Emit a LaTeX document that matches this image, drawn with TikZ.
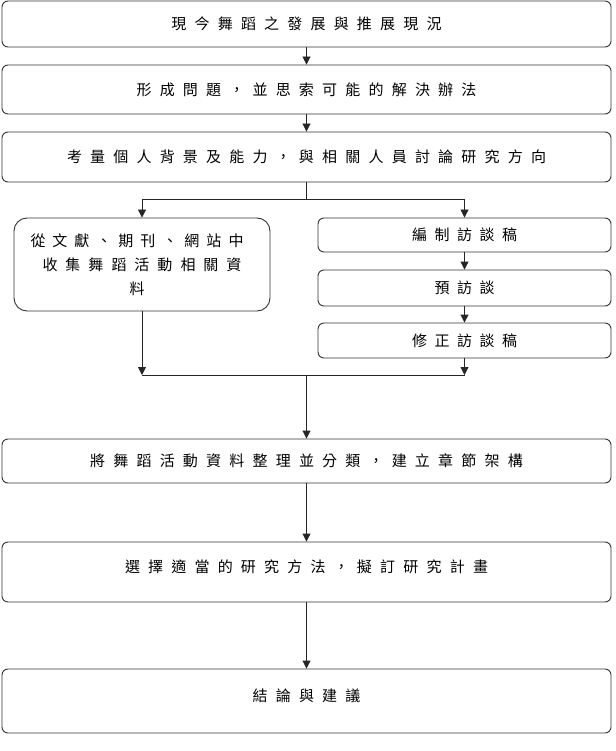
\documentclass[tikz,border=0pt]{standalone}
\usepackage{fontspec}
\newfontfamily\cjk{Noto Sans CJK TC}
\usetikzlibrary{arrows.meta}
\makeatletter
\def\gapsp{8.2pt}
\def\spacedtext#1{\spc@first#1\relax}
\def\spc@first#1{#1\spc@rest}
\def\spc@rest#1{\ifx#1\relax\else\hspace{\gapsp}#1\expandafter\spc@rest\fi}
\makeatother
\tikzset{
  box/.style={draw=black!80, line width=0.9pt, rounded corners=6pt, inner sep=0pt,
    font=\cjk\fontsize{15pt}{24pt}\selectfont, text=black},
  flow/.style={draw=black!85, line width=0.9pt, -{Triangle[length=8pt,width=8pt]}},
  link/.style={draw=black!85, line width=0.9pt}
}
\begin{document}
\begin{tikzpicture}[x=1pt,y=-1pt]
\useasboundingbox (0,0) rectangle (615,751);
\fill[white] (0,0) rectangle (615,751);

\node[box, minimum width=609pt, minimum height=46pt] (n1) at (306.5,24) {\spacedtext{現今舞蹈之發展與推展現況}};
\node[box, minimum width=609pt, minimum height=49pt] (n2) at (306.5,89.5) {\spacedtext{形成問題，並思索可能的解決辦法}};
\node[box, minimum width=609pt, minimum height=50pt] (n3) at (306.5,157) {\spacedtext{考量個人背景及能力，與相關人員討論研究方向}};

\node[box, rounded corners=13pt, minimum width=256pt, minimum height=93pt, align=center] (nL) at (142,264.5)
  {\def\gapsp{7pt}\spacedtext{從文獻、期刊、網站中}\hspace*{10pt}\\ \def\gapsp{8pt}\spacedtext{收集舞蹈活動相關資}\hspace*{10pt}\\ \spacedtext{料}\hspace*{10pt}};

\node[box, minimum width=293pt, minimum height=34pt] (rA) at (464.5,235) {\def\gapsp{7.5pt}\spacedtext{編制訪談稿}};
\node[box, minimum width=293pt, minimum height=36pt] (rB) at (464.5,288) {\def\gapsp{7.5pt}\spacedtext{預訪談}};
\node[box, minimum width=293pt, minimum height=35pt] (rC) at (464.5,340.5) {\def\gapsp{7.5pt}\spacedtext{修正訪談稿}};

\node[box, minimum width=609pt, minimum height=44pt] (n8) at (306.5,461) {\spacedtext{將舞蹈活動資料整理並分類，建立章節架構}};
\node[box, minimum width=609pt, minimum height=60pt, text depth=12pt] (n9) at (306.5,572) {\spacedtext{選擇適當的研究方法，擬訂研究計畫}};
\node[box, minimum width=609pt, minimum height=64pt, text depth=12pt] (n10) at (306.5,701) {\spacedtext{結論與建議}};

\coordinate (sp) at (306.5,199);
\coordinate (spL) at (142,199);
\coordinate (spR) at (464.5,199);
\coordinate (mL) at (142,375);
\coordinate (mR) at (464.5,375);
\coordinate (mC) at (306.5,375);

\draw[flow] (n1) -- (n2);
\draw[flow] (n2) -- (n3);
\draw[link] (n3) -- (sp);
\draw[link] (spL) -- (spR);
\draw[flow] (spL) -- (nL);
\draw[flow] (spR) -- (rA);
\draw[flow] (rA) -- (rB);
\draw[flow] (rB) -- (rC);
\draw[flow] (nL) -- (mL);
\draw[flow] (rC) -- (mR);
\draw[link] (mL) -- (mR);
\draw[flow] (mC) -- (n8);
\draw[flow] (n8) -- (n9);
\draw[flow] (n9) -- (n10);
\end{tikzpicture}
\end{document}
